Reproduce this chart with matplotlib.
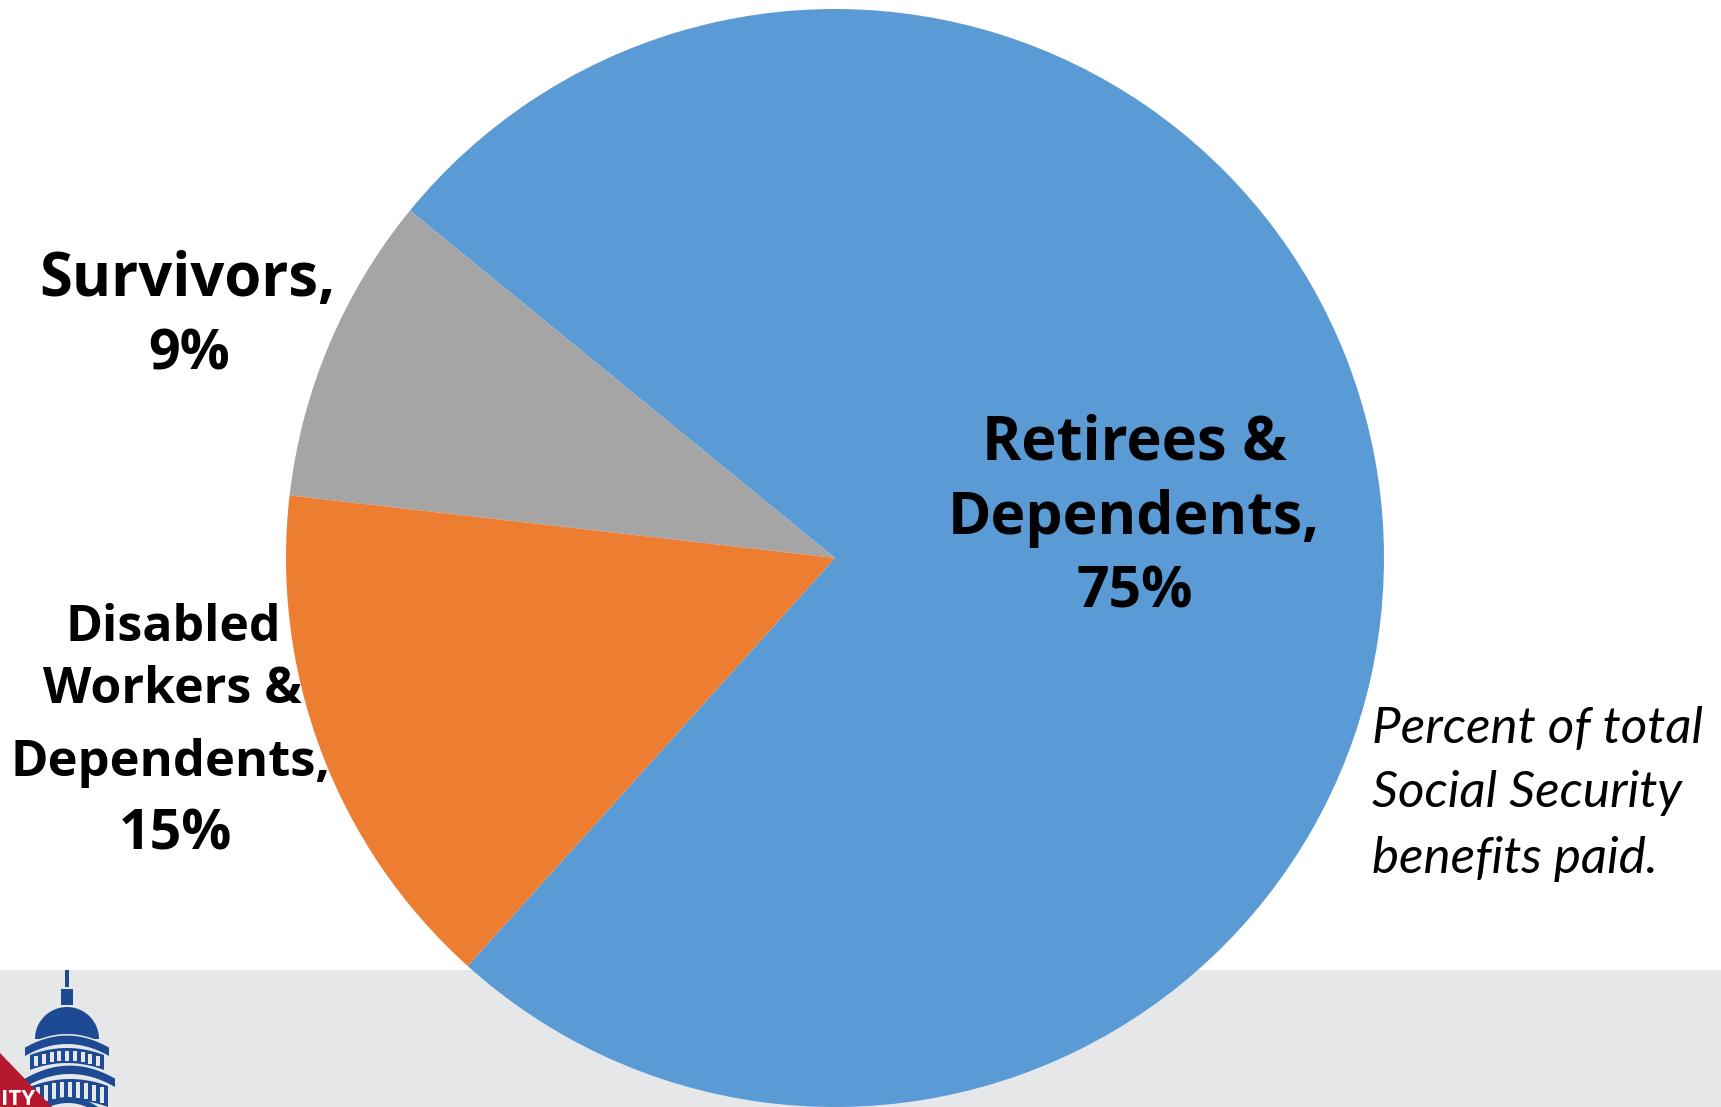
import matplotlib
matplotlib.use("Agg")
import matplotlib.pyplot as plt
import numpy as np
from matplotlib.patches import Polygon, Rectangle

W, H = 1721, 1107
categories = ["Retirees & Dependents", "Survivors", "Disabled Workers & Dependents"]
shares = [75, 9, 15]
slice_colors = ["#5B9BD5", "#A5A5A5", "#ED7D31"]

fig = plt.figure(figsize=(W / 100, H / 100), dpi=100, facecolor="white")

# overlay in pixel coordinates
bg = fig.add_axes([0, 0, 1, 1], zorder=0)
bg.set_xlim(0, W); bg.set_ylim(H, 0); bg.axis("off")
band = "#E6E7E9"
bg.add_patch(Rectangle((0, 970), W, H - 970, color=band, lw=0))

# logo
navy = "#1D4A92"
red = "#B5182F"

def arched(cx, edge_y, hw, arch, thick, z, color=navy):
    x = np.linspace(-hw, hw, 40)
    top = edge_y - arch * (1 - (x / hw) ** 2)
    bg.add_patch(Polygon(np.r_[np.c_[cx + x, top], np.c_[cx + x[::-1], top[::-1] + thick]],
                         color=color, lw=0, zorder=z))

bg.add_patch(Rectangle((65, 970), 4, 17, color=navy, lw=0))
bg.add_patch(Rectangle((61, 989), 12, 16, color=navy, lw=0))
t = np.linspace(np.pi, 0, 60)
bg.add_patch(Polygon(np.c_[67 + 32 * np.cos(t), 1039 - 32 * np.sin(t)], color=navy, lw=0))

for cx, edge, hw, arch, thick, n in [(67, 1055, 37, 7, 15, 9), (70, 1086, 38, 7, 21, 9)]:
    arched(cx, edge, hw, arch, thick, 1)
    for x in np.linspace(-hw + 6, hw - 6, n):
        y = edge - arch * (1 - (x / hw) ** 2)
        bg.add_patch(Rectangle((cx + x - 2, y + 3), 4, thick - 5, color=band, lw=0, zorder=2))
arched(67, 1047, 42, 12, 9, 3)
arched(67, 1046, 42, 12, 1.6, 3, band)
arched(70, 1078, 45, 13, 9, 3)
arched(70, 1077, 45, 13, 1.6, 3, band)
arched(68, 1107, 30, 10, 6, 3)
bg.add_patch(Polygon([(0, 1053), (52, 1107), (0, 1107)], color=red, lw=0, zorder=4))
bg.text(1, 1105, "ITY", color="white", fontsize=16, fontweight="bold",
        family="Open Sans", va="baseline", ha="left", zorder=5)

# pie
ax = fig.add_axes([(835 - 549) / W, 0, 1098 / W, 1098 / H], zorder=1)
ax.pie(shares, colors=slice_colors, startangle=228.0, counterclock=True, radius=1,
       wedgeprops=dict(lw=0))
ax.set_xlim(-1, 1); ax.set_ylim(-1, 1)
ax.patch.set_alpha(0)

# text overlay
tx = fig.add_axes([0, 0, 1, 1], zorder=2)
tx.set_xlim(0, W); tx.set_ylim(H, 0); tx.axis("off")
bold = dict(family="Open Sans", fontweight="bold", color="black", ha="center", va="baseline")
for s, x, y, fs in [
    ("Survivors,", 187, 296, 43), ("9%", 189, 369, 40),
    ("Retirees &", 1134, 459, 43), ("Dependents,", 1134, 534, 42.5), ("75%", 1135, 608, 41),
    ("Disabled", 173, 641, 36), ("Workers &", 172, 703, 36),
    ("Dependents,", 171, 776, 36.5), ("15%", 175, 850, 40),
]:
    tx.text(x, y, s, fontsize=fs, **bold)
for s, y in [("Percent of total", 743), ("Social Security", 807), ("benefits paid.", 873)]:
    tx.text(1372, y, s, fontsize=36.8, family="Lato", style="italic", color="black",
            ha="left", va="baseline")

fig.savefig("out.png", dpi=100)
